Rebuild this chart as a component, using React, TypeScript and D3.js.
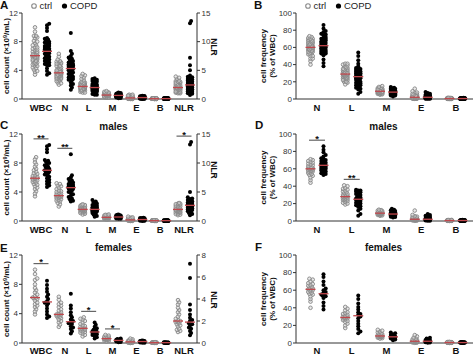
import React from "react";
import * as d3 from "d3";

const countCats = ["WBC", "N", "L", "M", "E", "B", "NLR"];
const freqCats = ["N", "L", "M", "E", "B"];
const countTicks = [0, 4, 8, 12];
const nlrTicksAll = [0, 5, 10, 15];
const nlrTicksFemale = [0, 2, 4, 6, 8];
const freqTicks = [0, 20, 40, 60, 80, 100];

// ---------- males: cell counts (x10^9/mL) and NLR ----------
const mCtrlWBC = [3.4, 3.8, 4.1, 4.4, 4.6, 4.8, 5.0, 5.1, 5.3, 5.4, 5.5, 5.6, 5.7, 5.8, 5.9, 5.9, 6.0, 6.1, 6.2, 6.3, 6.5, 6.6, 6.8, 7.0, 7.2, 7.5, 7.8, 8.1, 8.5, 8.8];
const mCopdWBC = [4.7, 4.9, 5.1, 5.3, 5.5, 5.7, 5.9, 6.1, 6.3, 6.4, 6.6, 6.7, 6.8, 6.9, 7.0, 7.0, 7.1, 7.2, 7.4, 7.5, 7.7, 7.9, 8.0, 8.2, 8.3, 8.4, 9.5, 9.9, 10.3, 10.5];
const mCtrlN = [2.0, 2.3, 2.5, 2.7, 2.8, 2.9, 3.0, 3.1, 3.2, 3.3, 3.3, 3.4, 3.4, 3.5, 3.5, 3.5, 3.6, 3.6, 3.7, 3.8, 3.9, 4.0, 4.1, 4.2, 4.4, 4.6, 4.8, 4.9, 5.1, 5.2];
const mCopdN = [2.7, 2.8, 3.0, 3.1, 3.3, 3.5, 3.7, 3.9, 4.0, 4.2, 4.3, 4.4, 4.5, 4.5, 4.6, 4.6, 4.7, 4.8, 4.8, 4.9, 5.0, 5.1, 5.2, 5.3, 5.5, 5.6, 5.8, 6.0, 6.3, 9.2];
const mCtrlL = [0.9, 1.0, 1.1, 1.2, 1.2, 1.3, 1.3, 1.4, 1.4, 1.5, 1.5, 1.5, 1.6, 1.6, 1.6, 1.6, 1.7, 1.7, 1.7, 1.8, 1.8, 1.9, 1.9, 2.0, 2.0, 2.1, 2.1, 2.2, 2.2, 2.3];
const mCopdL = [0.6, 0.7, 0.9, 1.0, 1.1, 1.2, 1.3, 1.3, 1.4, 1.4, 1.5, 1.5, 1.5, 1.6, 1.6, 1.6, 1.7, 1.7, 1.8, 1.8, 1.9, 1.9, 2.0, 2.1, 2.2, 2.3, 2.4, 2.6, 2.7, 2.9];
const mCtrlM = [0.2, 0.25, 0.3, 0.3, 0.35, 0.4, 0.4, 0.4, 0.45, 0.45, 0.5, 0.5, 0.5, 0.5, 0.5, 0.5, 0.55, 0.55, 0.6, 0.6, 0.6, 0.65, 0.65, 0.7, 0.7, 0.75, 0.8, 0.8, 0.85, 0.9];
const mCopdM = [0.3, 0.3, 0.35, 0.4, 0.4, 0.45, 0.45, 0.5, 0.5, 0.5, 0.5, 0.55, 0.55, 0.55, 0.55, 0.55, 0.6, 0.6, 0.6, 0.6, 0.65, 0.65, 0.7, 0.7, 0.75, 0.75, 0.8, 0.8, 0.85, 0.9];
const mCtrlE = [0.0, 0.02, 0.05, 0.05, 0.08, 0.1, 0.1, 0.1, 0.12, 0.12, 0.13, 0.14, 0.15, 0.15, 0.15, 0.15, 0.16, 0.18, 0.2, 0.2, 0.22, 0.25, 0.28, 0.3, 0.32, 0.35, 0.4, 0.45, 0.5, 0.6];
const mCopdE = [0.0, 0.03, 0.05, 0.08, 0.1, 0.1, 0.12, 0.14, 0.15, 0.15, 0.17, 0.18, 0.19, 0.2, 0.2, 0.2, 0.21, 0.22, 0.24, 0.25, 0.26, 0.28, 0.3, 0.3, 0.32, 0.35, 0.37, 0.4, 0.42, 0.45];
const mCtrlB = [0.01, 0.02, 0.02, 0.02, 0.03, 0.03, 0.03, 0.03, 0.03, 0.04, 0.04, 0.04, 0.04, 0.04, 0.04, 0.05, 0.05, 0.05, 0.05, 0.05, 0.06, 0.06, 0.06, 0.06, 0.07, 0.07, 0.08, 0.08, 0.09, 0.1];
const mCopdB = [0.01, 0.02, 0.02, 0.03, 0.03, 0.03, 0.03, 0.04, 0.04, 0.04, 0.04, 0.04, 0.05, 0.05, 0.05, 0.05, 0.05, 0.05, 0.06, 0.06, 0.06, 0.06, 0.07, 0.07, 0.07, 0.08, 0.08, 0.09, 0.1, 0.12];
const mCtrlNLR = [1.0, 1.1, 1.2, 1.3, 1.4, 1.5, 1.6, 1.6, 1.7, 1.7, 1.8, 1.8, 1.9, 1.9, 2.0, 2.0, 2.1, 2.1, 2.2, 2.2, 2.3, 2.4, 2.5, 2.6, 2.7, 2.8, 2.9, 3.0, 3.0, 3.1];
const mCopdNLR = [1.0, 1.2, 1.4, 1.5, 1.7, 1.8, 1.9, 2.0, 2.1, 2.2, 2.3, 2.4, 2.5, 2.6, 2.7, 2.7, 2.8, 2.9, 3.0, 3.1, 3.2, 3.3, 3.4, 3.6, 3.8, 3.9, 4.1, 5.0, 13.2, 13.6];

// ---------- females: cell counts and NLR ----------
const fCtrlWBC = [3.9, 4.3, 4.6, 4.9, 5.1, 5.3, 5.5, 5.8, 6.0, 6.1, 6.2, 6.2, 6.4, 6.6, 6.9, 7.2, 7.5, 8.0, 8.6, 8.8, 9.4, 10.0];
const fCopdWBC = [3.4, 3.6, 3.9, 4.3, 4.7, 5.1, 5.4, 5.5, 5.7, 6.0, 6.3, 6.6, 7.0, 7.4, 7.9, 8.5];
const fCtrlN = [2.2, 2.5, 2.8, 3.0, 3.2, 3.4, 3.5, 3.6, 3.7, 3.8, 3.9, 3.9, 4.0, 4.2, 4.4, 4.6, 4.9, 5.1, 5.3, 5.5, 5.9, 6.3];
const fCopdN = [1.3, 1.6, 1.9, 2.1, 2.3, 2.6, 2.7, 2.8, 3.0, 3.2, 3.5, 3.8, 4.2, 4.7, 5.1, 6.7];
const fCtrlL = [0.9, 1.1, 1.3, 1.4, 1.5, 1.6, 1.7, 1.8, 1.9, 1.9, 2.0, 2.0, 2.1, 2.2, 2.3, 2.4, 2.6, 2.8, 3.0, 3.2, 3.3, 3.5];
const fCopdL = [0.6, 0.8, 1.0, 1.1, 1.2, 1.3, 1.4, 1.5, 1.5, 1.6, 1.7, 1.8, 2.0, 2.2, 2.5, 2.8];
const fCtrlM = [0.2, 0.3, 0.35, 0.4, 0.45, 0.5, 0.5, 0.55, 0.55, 0.6, 0.6, 0.6, 0.6, 0.65, 0.7, 0.7, 0.75, 0.8, 0.85, 0.9, 1.0, 1.1];
const fCopdM = [0.1, 0.15, 0.2, 0.25, 0.28, 0.3, 0.32, 0.34, 0.36, 0.38, 0.4, 0.42, 0.45, 0.5, 0.55, 0.6];
const fCtrlE = [0.0, 0.03, 0.05, 0.07, 0.08, 0.1, 0.1, 0.12, 0.13, 0.14, 0.15, 0.15, 0.17, 0.18, 0.2, 0.22, 0.25, 0.3, 0.35, 0.4, 0.5, 0.6];
const fCopdE = [0.02, 0.05, 0.08, 0.1, 0.13, 0.15, 0.17, 0.19, 0.21, 0.22, 0.24, 0.26, 0.28, 0.3, 0.32, 0.35];
const fCtrlB = [0.01, 0.02, 0.02, 0.03, 0.03, 0.03, 0.04, 0.04, 0.04, 0.04, 0.04, 0.05, 0.05, 0.05, 0.05, 0.06, 0.06, 0.06, 0.07, 0.08, 0.09, 0.1];
const fCopdB = [0.02, 0.02, 0.03, 0.03, 0.04, 0.04, 0.04, 0.05, 0.05, 0.05, 0.06, 0.06, 0.07, 0.08, 0.09, 0.1];
const fCtrlNLR = [1.0, 1.1, 1.2, 1.3, 1.5, 1.6, 1.7, 1.8, 1.9, 1.9, 2.0, 2.0, 2.1, 2.2, 2.4, 2.6, 2.8, 3.0, 3.2, 3.5, 3.7, 3.9];
const fCopdNLR = [0.7, 0.9, 1.1, 1.3, 1.4, 1.6, 1.7, 1.8, 2.0, 2.1, 2.3, 2.6, 3.0, 3.5, 5.9, 7.2];

// ---------- males: frequencies (% of WBC) ----------
const mCtrlFN = [44, 47, 50, 52, 53, 54, 55, 56, 57, 57, 58, 58, 59, 59, 60, 60, 60, 61, 61, 62, 62, 63, 64, 65, 66, 67, 68, 69, 70, 71];
const mCopdFN = [53, 54, 55, 56, 57, 58, 59, 60, 60, 61, 62, 62, 63, 63, 64, 64, 65, 65, 66, 67, 68, 69, 70, 71, 72, 74, 76, 79, 82, 86];
const mCtrlFL = [19, 20, 21, 22, 23, 24, 24, 25, 25, 26, 26, 27, 27, 28, 28, 28, 29, 29, 30, 30, 31, 32, 33, 34, 35, 36, 37, 38, 40, 41];
const mCopdFL = [6, 8, 12, 14, 16, 17, 18, 19, 20, 21, 22, 23, 24, 24, 25, 25, 26, 26, 27, 28, 28, 29, 30, 31, 32, 33, 34, 35, 35, 36];
const mCtrlFM = [6, 6.5, 7, 7, 7.5, 7.5, 8, 8, 8, 8.5, 8.5, 8.5, 9, 9, 9, 9, 9, 9.5, 9.5, 10, 10, 10, 10.5, 11, 11, 11.5, 12, 12, 12.5, 13];
const mCopdFM = [4, 4.5, 5, 5.5, 6, 6, 6.5, 6.5, 7, 7, 7.5, 7.5, 8, 8, 8, 8, 8.5, 8.5, 9, 9, 9.5, 10, 10, 10.5, 11, 11.5, 12, 12.5, 13, 14];
const mCtrlFE = [0.3, 0.5, 0.7, 0.8, 1, 1, 1.2, 1.4, 1.5, 1.6, 1.8, 1.9, 2, 2, 2, 2, 2.1, 2.3, 2.5, 2.7, 3, 3.2, 3.5, 3.8, 4, 4.5, 5, 5.5, 7, 12];
const mCopdFE = [0.2, 0.4, 0.6, 0.8, 1, 1.1, 1.3, 1.4, 1.6, 1.7, 1.8, 1.9, 2, 2, 2, 2, 2.2, 2.4, 2.6, 2.8, 3, 3.3, 3.6, 4, 4.5, 5, 5.5, 6, 7, 8];
const mCtrlFB = [0.1, 0.2, 0.2, 0.3, 0.3, 0.3, 0.4, 0.4, 0.4, 0.4, 0.5, 0.5, 0.5, 0.5, 0.5, 0.5, 0.6, 0.6, 0.6, 0.6, 0.7, 0.7, 0.7, 0.8, 0.8, 0.9, 0.9, 1.0, 1.1, 1.2];
const mCopdFB = [0.1, 0.1, 0.2, 0.2, 0.3, 0.3, 0.3, 0.4, 0.4, 0.4, 0.5, 0.5, 0.5, 0.5, 0.5, 0.6, 0.6, 0.6, 0.6, 0.7, 0.7, 0.7, 0.8, 0.8, 0.9, 0.9, 1.0, 1.1, 1.2, 1.4];

// ---------- females: frequencies ----------
const fCtrlFN = [40, 47, 50, 53, 55, 56, 57, 58, 59, 60, 61, 61, 62, 63, 64, 65, 66, 67, 68, 70, 72, 73];
const fCopdFN = [38, 42, 46, 51, 53, 54, 55, 55, 57, 58, 60, 62, 66, 70, 75, 78];
const fCtrlFL = [17, 20, 22, 24, 25, 26, 27, 28, 28, 29, 29, 29, 30, 30, 31, 32, 33, 34, 35, 37, 39, 41];
const fCopdFL = [11, 13, 16, 19, 22, 25, 28, 30, 32, 33, 35, 38, 41, 45, 50, 54];
const fCtrlFM = [5, 5.5, 6, 6.5, 6.5, 7, 7, 7.5, 7.5, 8, 8, 8, 8.5, 9, 9.5, 10, 10.5, 11, 12, 13, 14, 15];
const fCopdFM = [3, 4, 5, 5.5, 6, 6.5, 6.8, 7, 7, 7.5, 8, 8.5, 9, 10, 11, 12];
const fCtrlFE = [0.2, 0.4, 0.6, 0.8, 1, 1.2, 1.4, 1.6, 1.8, 1.9, 2, 2, 2.2, 2.5, 2.8, 3.2, 3.6, 4, 5, 6, 7.5, 9];
const fCopdFE = [0.3, 0.6, 0.9, 1.2, 1.5, 1.7, 1.9, 2, 2, 2.2, 2.5, 3, 3.5, 4, 5, 6];
const fCtrlFB = [0.1, 0.2, 0.3, 0.3, 0.4, 0.4, 0.4, 0.5, 0.5, 0.5, 0.5, 0.6, 0.6, 0.6, 0.7, 0.7, 0.8, 0.8, 0.9, 1.0, 1.1, 1.3];
const fCopdFB = [0.1, 0.2, 0.3, 0.3, 0.4, 0.4, 0.5, 0.5, 0.5, 0.6, 0.6, 0.7, 0.8, 0.9, 1.0, 1.2];

// significance annotations
const sigC = [{ cat: "WBC", label: "**" }, { cat: "N", label: "**" }, { cat: "NLR", label: "*" }];
const sigD = [{ cat: "N", label: "*" }, { cat: "L", label: "**" }];
const sigE = [{ cat: "WBC", label: "*" }, { cat: "L", label: "*" }, { cat: "M", label: "*" }];

// grouped per category (order of countCats / freqCats)
const maleCountCtrl = [mCtrlWBC, mCtrlN, mCtrlL, mCtrlM, mCtrlE, mCtrlB, mCtrlNLR];
const maleCountCopd = [mCopdWBC, mCopdN, mCopdL, mCopdM, mCopdE, mCopdB, mCopdNLR];
const femCountCtrl = [fCtrlWBC, fCtrlN, fCtrlL, fCtrlM, fCtrlE, fCtrlB, fCtrlNLR];
const femCountCopd = [fCopdWBC, fCopdN, fCopdL, fCopdM, fCopdE, fCopdB, fCopdNLR];
const maleFreqCtrl = [mCtrlFN, mCtrlFL, mCtrlFM, mCtrlFE, mCtrlFB];
const maleFreqCopd = [mCopdFN, mCopdFL, mCopdFM, mCopdFE, mCopdFB];
const femFreqCtrl = [fCtrlFN, fCtrlFL, fCtrlFM, fCtrlFE, fCtrlFB];
const femFreqCopd = [fCopdFN, fCopdFL, fCopdFM, fCopdFE, fCopdFB];
const allCountCtrl = maleCountCtrl.map((a, i) => a.concat(femCountCtrl[i]));
const allCountCopd = maleCountCopd.map((a, i) => a.concat(femCountCopd[i]));
const allFreqCtrl = maleFreqCtrl.map((a, i) => a.concat(femFreqCtrl[i]));
const allFreqCopd = maleFreqCopd.map((a, i) => a.concat(femFreqCopd[i]));

const FONT = "'Liberation Sans', Arial, Helvetica, sans-serif";
const AXIS = "#333";
const CTRL = "#8a8a8a";
const MED = "#c0464b";

const ROWS = [
  { top: 13, bot: 99, lab: 11.5 },
  { top: 134, bot: 221, lab: 11.5 },
  { top: 255, bot: 343, lab: 10.5 },
];
const LEFT = { ax0: 22, ax1: 197, c0: 41, c1: 184, off: 6 };
const RIGHT = { ax0: 296, ax1: 473, c0: 317, c1: 456, off: 6.5 };

function swarm(ys: number[], minDist: number, step: number, maxOff: number): number[] {
  const idx = ys.map((_, i) => i).sort((a, b) => ys[b] - ys[a]);
  const cands: number[] = [0];
  for (let k = 1; k * step <= maxOff + 1e-6; k++) cands.push(k * step, -k * step);
  const placed: { x: number; y: number }[] = [];
  const out = new Array(ys.length).fill(0);
  for (const i of idx) {
    const y = ys[i];
    let best = 0;
    let bestD = -1;
    for (const c of cands) {
      let md = Infinity;
      for (const p of placed) {
        if (Math.abs(p.y - y) < minDist) {
          const d = Math.hypot(p.x - c, p.y - y);
          if (d < md) md = d;
        }
      }
      if (md >= minDist) {
        best = c;
        bestD = md;
        break;
      }
      if (md > bestD) {
        bestD = md;
        best = c;
      }
    }
    placed.push({ x: best, y });
    out[i] = best;
  }
  return out;
}

type Sig = { cat: string; label: string };
type PanelProps = {
  layout: typeof LEFT;
  row: number;
  cats: string[];
  ctrl: number[][];
  copd: number[][];
  yMax: number;
  ticks: number[];
  right?: { max: number; ticks: number[]; labelY: number };
  yLabel: "count" | "freq";
  title?: string;
  letter: string;
  letterX: number;
  letterY: number;
  legend?: { x: number };
  sigs?: Sig[];
};

function Panel(p: PanelProps) {
  const L = p.layout;
  const R = ROWS[p.row];
  const xs = d3.scalePoint<string>().domain(p.cats).range([L.c0, L.c1]);
  const y = d3.scaleLinear().domain([0, p.yMax]).range([R.bot, R.top]);
  const y2 = p.right ? d3.scaleLinear().domain([0, p.right.max]).range([R.bot, R.top]) : null;
  const scaleFor = (c: string) => (c === "NLR" && y2 ? y2 : y);

  const ctrlDots: React.ReactNode[] = [];
  const copdDots: React.ReactNode[] = [];
  const medians: React.ReactNode[] = [];
  p.cats.forEach((c, i) => {
    const sc = scaleFor(c);
    const groups = [
      { vals: p.ctrl[i], dx: -L.off, kind: "ctrl" },
      { vals: p.copd[i], dx: L.off, kind: "copd" },
    ];
    groups.forEach((g) => {
      const cx = (xs(c) as number) + g.dx;
      const ys = g.vals.map((v) => sc(v));
      const offs = swarm(ys, 2.4, 1.1, 2.8);
      ys.forEach((yy, k) => {
        if (g.kind === "ctrl") {
          ctrlDots.push(
            <circle key={`${c}-c-${k}`} cx={cx + offs[k]} cy={yy} r={1.8} fill="#d6d6d6" fillOpacity={0.5} stroke={CTRL} strokeWidth={0.95} />
          );
        } else {
          copdDots.push(<circle key={`${c}-p-${k}`} cx={cx + offs[k]} cy={yy} r={2} fill="#000" />);
        }
      });
      const med = d3.median(g.vals) as number;
      medians.push(
        <line key={`${c}-${g.kind}-med`} x1={cx - 5} x2={cx + 5} y1={sc(med)} y2={sc(med)} stroke={MED} strokeWidth={1.3} />
      );
    });
  });

  const sigMarks = (p.sigs || []).map((s) => {
    const i = p.cats.indexOf(s.cat);
    const sc = scaleFor(s.cat);
    const cx = xs(s.cat) as number;
    const top = Math.min(sc(d3.max(p.ctrl[i]) as number), sc(d3.max(p.copd[i]) as number));
    const by = top - 6;
    return (
      <g key={`sig-${s.cat}`}>
        <line x1={cx - L.off - 1.5} x2={cx + L.off + 1.5} y1={by} y2={by} stroke={AXIS} strokeWidth={0.9} />
        <text x={cx} y={by + 1.8} textAnchor="middle" fontSize={9.5} fontWeight="bold" fill="#111">
          {s.label}
        </text>
      </g>
    );
  });

  const midY = (R.top + R.bot) / 2;

  return (
    <g fontFamily={FONT}>
      <text x={p.letterX} y={p.letterY} fontSize={11.5} fontWeight="bold" fill="#111">
        {p.letter}
      </text>
      {p.title && (
        <text x={(L.ax0 + L.ax1) / 2 + (p.layout === LEFT ? 4 : -1)} y={R.top - 4.5} textAnchor="middle" fontSize={10} fontWeight="bold" fill="#111">
          {p.title}
        </text>
      )}
      {p.legend && (
        <g>
          <circle cx={p.legend.x} cy={6} r={2.3} fill="none" stroke={CTRL} strokeWidth={1.1} />
          <text x={p.legend.x + 5.5} y={9.3} fontSize={9.5} fill="#222">ctrl</text>
          <circle cx={p.legend.x + 30.5} cy={6} r={2.6} fill="#000" />
          <text x={p.legend.x + 36} y={9.3} fontSize={9.5} fill="#222">COPD</text>
        </g>
      )}
      <line x1={L.ax0} x2={L.ax0} y1={R.top} y2={R.bot} stroke={AXIS} strokeWidth={1} />
      {p.ticks.map((t) => (
        <g key={`t${t}`}>
          <line x1={L.ax0 - 3} x2={L.ax0} y1={y(t)} y2={y(t)} stroke={AXIS} strokeWidth={1} />
          <text x={L.ax0 - 4} y={y(t)} dy="0.35em" textAnchor="end" fontSize={8} fill="#333">
            {t}
          </text>
        </g>
      ))}
      {p.right && y2 && (
        <g>
          <line x1={L.ax1} x2={L.ax1} y1={R.top} y2={R.bot} stroke={AXIS} strokeWidth={1} />
          {p.right.ticks.map((t) => (
            <g key={`r${t}`}>
              <line x1={L.ax1} x2={L.ax1 + 3} y1={y2(t)} y2={y2(t)} stroke={AXIS} strokeWidth={1} />
              <text x={L.ax1 + 4.5} y={y2(t)} dy="0.35em" fontSize={8} fill="#333">
                {t}
              </text>
            </g>
          ))}
          <text transform={`translate(${L.ax1 + 17},${p.right.labelY}) rotate(90)`} textAnchor="middle" dy="0.35em" fontSize={8.5} fontWeight="bold" fill="#111">
            NLR
          </text>
        </g>
      )}
      <line x1={L.ax0} x2={L.ax1} y1={R.bot} y2={R.bot} stroke={AXIS} strokeWidth={1} />
      {p.cats.map((c) => (
        <text key={`x${c}`} x={xs(c) as number} y={R.bot + R.lab} textAnchor="middle" fontSize={9.5} fontWeight="bold" fill="#111">
          {c}
        </text>
      ))}
      {p.yLabel === "count" ? (
        <text transform={`translate(6.5,${midY}) rotate(-90)`} textAnchor="middle" dy="0.35em" fontSize={8} fontWeight="bold" fill="#111">
          cell count (×10<tspan dy={-2.8} fontSize={5.5}>9</tspan>
          <tspan dy={2.8}>/mL)</tspan>
        </text>
      ) : (
        <g>
          <text transform={`translate(263,${midY}) rotate(-90)`} textAnchor="middle" dy="0.35em" fontSize={8} fontWeight="bold" fill="#111">
            cell frequency
          </text>
          <text transform={`translate(272.5,${midY}) rotate(-90)`} textAnchor="middle" dy="0.35em" fontSize={8} fontWeight="bold" fill="#111">
            (% of WBC)
          </text>
        </g>
      )}
      <g>{ctrlDots}</g>
      <g>{copdDots}</g>
      <g>{medians}</g>
      {sigMarks}
    </g>
  );
}

export default function App() {
  return (
    <svg width={474} height={355} style={{ position: "absolute", left: 0, top: 0, background: "#fff" }}>
      <rect width={474} height={355} fill="#fff" />
      <Panel layout={LEFT} row={0} cats={countCats} ctrl={allCountCtrl} copd={allCountCopd} yMax={12} ticks={countTicks}
        right={{ max: 15, ticks: nlrTicksAll, labelY: 47 }} yLabel="count" letter="A" letterX={0} letterY={9} legend={{ x: 34 }} />
      <Panel layout={RIGHT} row={0} cats={freqCats} ctrl={allFreqCtrl} copd={allFreqCopd} yMax={100} ticks={freqTicks}
        yLabel="freq" letter="B" letterX={254} letterY={9} legend={{ x: 308 }} />
      <Panel layout={LEFT} row={1} cats={countCats} ctrl={maleCountCtrl} copd={maleCountCopd} yMax={12} ticks={countTicks}
        right={{ max: 15, ticks: nlrTicksAll, labelY: 170 }} yLabel="count" title="males" letter="C" letterX={0} letterY={129} sigs={sigC} />
      <Panel layout={RIGHT} row={1} cats={freqCats} ctrl={maleFreqCtrl} copd={maleFreqCopd} yMax={100} ticks={freqTicks}
        yLabel="freq" title="males" letter="D" letterX={255} letterY={129} sigs={sigD} />
      <Panel layout={LEFT} row={2} cats={countCats} ctrl={femCountCtrl} copd={femCountCopd} yMax={12} ticks={countTicks}
        right={{ max: 8, ticks: nlrTicksFemale, labelY: 300 }} yLabel="count" title="females" letter="E" letterX={0} letterY={252} sigs={sigE} />
      <Panel layout={RIGHT} row={2} cats={freqCats} ctrl={femFreqCtrl} copd={femFreqCopd} yMax={100} ticks={freqTicks}
        yLabel="freq" title="females" letter="F" letterX={255} letterY={251} />
    </svg>
  );
}
